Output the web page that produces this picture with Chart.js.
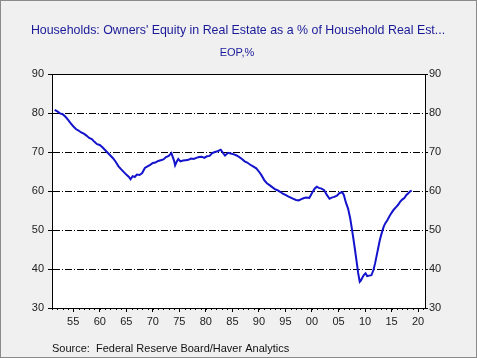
<!DOCTYPE html>
<html><head><meta charset="utf-8">
<script src="https://cdn.jsdelivr.net/npm/chart.js@4/dist/chart.umd.min.js"></script>
<style>html,body{margin:0;padding:0;background:#f0f0f0;overflow:hidden}#wrap{width:477px;height:358px;position:relative}</style>
</head><body><div id="wrap"><canvas id="c" width="477" height="358"></canvas></div>
<script>
const years = [1951.5,1952.0,1952.5,1953.0,1953.5,1954.0,1954.5,1955.0,1955.5,1956.0,1956.5,1957.0,1957.5,1958.0,1958.5,1959.0,1959.5,1960.0,1960.5,1961.0,1961.5,1962.0,1962.5,1963.0,1963.5,1964.0,1964.5,1965.0,1965.5,1965.8,1966.2,1966.6,1967.0,1967.5,1968.0,1968.5,1969.0,1969.5,1970.0,1970.5,1971.0,1971.5,1972.0,1972.5,1973.0,1973.5,1974.0,1974.2,1974.5,1974.8,1975.2,1975.7,1976.2,1976.7,1977.2,1977.7,1978.2,1978.7,1979.2,1979.7,1980.2,1980.7,1981.2,1981.7,1982.2,1982.8,1983.2,1983.6,1984.2,1984.7,1985.3,1985.8,1986.3,1986.8,1987.3,1987.8,1988.3,1988.9,1989.5,1990.0,1990.5,1991.0,1991.5,1992.0,1992.5,1993.0,1993.5,1994.0,1994.5,1995.0,1995.5,1996.0,1996.5,1997.0,1997.5,1998.0,1998.5,1999.0,1999.5,2000.0,2000.5,2000.9,2001.3,2001.8,2002.3,2002.8,2003.3,2003.7,2004.2,2004.7,2005.2,2005.7,2006.0,2006.4,2006.8,2007.2,2007.5,2007.8,2008.1,2008.4,2008.7,2009.0,2009.2,2009.5,2009.8,2010.1,2010.4,2010.8,2011.2,2011.6,2011.9,2012.2,2012.5,2012.8,2013.1,2013.5,2013.8,2014.2,2014.6,2015.0,2015.4,2015.8,2016.2,2016.6,2017.0,2017.4,2017.8,2018.2,2018.5,2018.8];
const equityPct = [80.8,80.4,79.9,79.7,79.1,78.3,77.4,76.6,75.9,75.5,75.0,74.7,74.2,73.6,73.3,72.6,72.0,71.8,71.2,70.5,69.8,69.1,68.4,67.5,66.4,65.6,64.9,64.2,63.6,63.0,63.8,63.6,64.2,64.1,64.6,65.9,66.3,66.7,67.2,67.3,67.7,67.9,68.1,68.7,69.0,69.7,67.8,66.6,67.5,68.2,67.6,67.8,67.9,68.0,68.3,68.2,68.5,68.7,68.8,68.5,68.9,69.0,69.7,70.0,70.2,70.6,69.8,69.1,69.8,69.6,69.4,69.1,68.7,68.2,67.6,67.3,66.8,66.3,65.8,65.0,64.0,62.8,62.0,61.5,61.0,60.5,60.2,59.8,59.3,59.0,58.6,58.3,58.0,57.7,57.6,57.9,58.2,58.3,58.2,59.5,60.6,61.1,60.8,60.6,60.2,59.0,58.0,58.3,58.5,58.8,59.5,59.7,59.0,57.0,55.5,53.0,50.5,47.8,45.0,42.0,39.0,36.7,37.0,37.8,38.5,38.9,38.2,38.3,38.4,39.8,41.5,43.5,45.5,47.5,49.0,50.8,51.7,52.5,53.5,54.4,55.2,55.8,56.4,57.2,57.8,58.2,59.0,59.5,59.9,60.1];
const xTickYears = [1955,1960,1965,1970,1975,1980,1985,1990,1995,2000,2005,2010,2015,2020];
const yTicks = [30,40,50,60,70,80,90];
const titleText = "Households: Owners' Equity in Real Estate as a % of Household Real Est...";
const subtitleText = "EOP,%";
const sourceText = "Source:  Federal Reserve Board/Haver Analytics";

const FONT = "'Liberation Sans', Arial, sans-serif";
const tickFont = {family: FONT, size: 11};

const framePlugin = {
  id: 'frame',
  beforeDraw(chart) {
    const {ctx, chartArea: a} = chart;
    ctx.save();
    ctx.fillStyle = '#f0f0f0';
    ctx.fillRect(0, 0, chart.width, chart.height);
    ctx.fillStyle = '#ffffff';
    ctx.fillRect(a.left, a.top, a.right - a.left, a.bottom - a.top);
    ctx.restore();
  },
  afterDraw(chart) {
    const {ctx, chartArea: a} = chart;
    const xs = chart.scales.x;
    ctx.save();
    ctx.strokeStyle = '#000';
    ctx.lineWidth = 1;
    ctx.beginPath();
    ctx.moveTo(a.left, Math.round(a.top) + 0.5);
    ctx.lineTo(a.right, Math.round(a.top) + 0.5);
    ctx.stroke();
    ctx.beginPath();
    for (let yr = Math.ceil(xs.min); yr <= xs.max; yr++) {
      const px = Math.round(xs.getPixelForValue(yr)) + 0.5;
      ctx.moveTo(px, a.bottom);
      ctx.lineTo(px, a.bottom + 2);
    }
    ctx.stroke();
    ctx.strokeStyle = '#8a8a8a';
    ctx.strokeRect(0.5, 0.5, chart.width - 1, chart.height - 1);
    ctx.fillStyle = '#1a1a99';
    ctx.textBaseline = 'middle';
    ctx.textAlign = 'center';
    ctx.font = "12.4px " + FONT;
    ctx.fillText(titleText, 238, 31);
    ctx.font = "11px " + FONT;
    ctx.fillText(subtitleText, 237, 53);
    ctx.fillStyle = '#111';
    ctx.textAlign = 'left';
    ctx.fillText(sourceText, 52, 349);
    ctx.restore();
  }
};

new Chart(document.getElementById('c'), {
  type: 'line',
  data: {
    datasets: [{
      data: years.map((y, i) => ({x: y, y: equityPct[i]})),
      borderColor: '#1414cc',
      borderWidth: 2,
      pointRadius: 0,
      tension: 0,
      fill: false
    }]
  },
  options: {
    responsive: false,
    animation: false,
    devicePixelRatio: 1,
    layout: {padding: {top: 74, left: 0, right: 0, bottom: 0}},
    plugins: {legend: {display: false}, tooltip: {enabled: false}, title: {display: false}},
    scales: {
      x: {
        type: 'linear', position: 'bottom', min: 1951, max: 2021.3,
        afterFit(s) { s.height = 50; },
        afterBuildTicks(s) { s.ticks = xTickYears.map(v => ({value: v})); },
        ticks: {
          font: tickFont, color: '#222', maxRotation: 0, autoSkip: false, padding: 3,
          callback: v => String(v % 100).padStart(2, '0')
        },
        grid: {drawOnChartArea: false, tickLength: 4, color: '#000'},
        border: {color: '#000', width: 1}
      },
      y: {
        type: 'linear', position: 'left', min: 30, max: 90,
        afterFit(s) { s.width = 52; },
        afterBuildTicks(s) { s.ticks = yTicks.map(v => ({value: v})); },
        ticks: {font: tickFont, color: '#222', padding: 4},
        grid: {color: '#000', tickLength: 4, lineWidth: 1},
        border: {color: '#000', width: 1, dash: [7, 2, 1, 2]}
      },
      y2: {
        type: 'linear', position: 'right', min: 30, max: 90,
        afterFit(s) { s.width = 52; },
        afterBuildTicks(s) { s.ticks = yTicks.map(v => ({value: v})); },
        ticks: {font: tickFont, color: '#222', padding: 1},
        grid: {drawOnChartArea: false, color: '#000', tickLength: 3},
        border: {color: '#000', width: 1}
      }
    }
  },
  plugins: [framePlugin]
});
</script>
</body></html>
